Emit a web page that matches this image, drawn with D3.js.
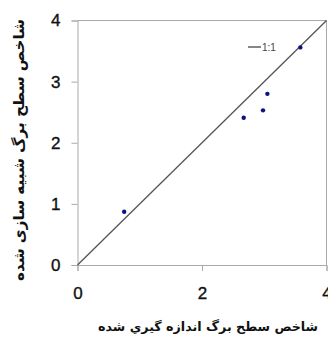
<!DOCTYPE html>
<html><head><meta charset="utf-8">
<script src="https://cdn.jsdelivr.net/npm/d3@7"></script>
<style>html,body{margin:0;padding:0;background:#fff;}svg{display:block;}</style>
</head><body>
<svg id="c" width="328" height="339"></svg>
<script>
const measured = [0.75, 2.67, 2.98, 3.05, 3.58];
const simulated = [0.87, 2.41, 2.53, 2.80, 3.56];
const xTicks = [0, 2, 4];
const yTicks = [0, 1, 2, 3, 4];
const lineLabel = "1:1";
const xTitle = "شاخص سطح برگ اندازه گيري شده";
const yTitle = "شاخص سطح برگ شبیه سازی شده";

const svg = d3.select("#c");
const x = d3.scaleLinear().domain([0, 4]).range([77.5, 326.5]);
const y = d3.scaleLinear().domain([0, 4]).range([265, 20.5]);

// frame top & right
svg.append("line").attr("x1", x(0)).attr("x2", x(4)).attr("y1", y(4)).attr("y2", y(4)).attr("stroke", "#aaa");
svg.append("line").attr("x1", x(4)).attr("x2", x(4)).attr("y1", y(4)).attr("y2", y(0)).attr("stroke", "#aaa");

const xa = svg.append("g").attr("transform", `translate(0,${y(0)})`)
  .call(d3.axisBottom(x).tickValues(xTicks).tickSize(6).tickPadding(16).tickFormat(d3.format("d")));
const ya = svg.append("g").attr("transform", `translate(${x(0)},0)`)
  .call(d3.axisLeft(y).tickValues(yTicks).tickSize(6).tickPadding(11).tickFormat(d3.format("d")));
[xa, ya].forEach(g => {
  g.select(".domain").attr("stroke", "#aaa");
  g.selectAll(".tick line").attr("stroke", "#aaa");
  g.selectAll(".tick text").attr("fill", "#111").attr("stroke", "#111").attr("stroke-width", 0.35)
    .style("font-family", "Liberation Sans, Arial, sans-serif").style("font-size", "17px");
});

// 1:1 line
svg.append("line").attr("x1", x(0)).attr("y1", y(0)).attr("x2", x(4)).attr("y2", y(4))
  .attr("stroke", "#555").attr("stroke-width", 1.3);

// points
svg.selectAll("circle.pt").data(measured).enter().append("circle")
  .attr("class", "pt")
  .attr("cx", (d) => x(d)).attr("cy", (d, i) => y(simulated[i])).attr("r", 2.2).attr("fill", "#101080");

// legend
svg.append("line").attr("x1", 248).attr("x2", 261).attr("y1", 47).attr("y2", 47).attr("stroke", "#444").attr("stroke-width", 1.3);
svg.append("text").attr("x", 262).attr("y", 51).text(lineLabel)
  .style("font-family", "Liberation Sans, Arial, sans-serif").style("font-size", "10px").attr("fill", "#444");

// titles
svg.append("text").attr("x", 208).attr("y", 331).attr("text-anchor", "middle")
  .attr("textLength", 220).attr("lengthAdjust", "spacingAndGlyphs")
  .style("font-family", "DejaVu Sans, sans-serif").style("font-weight", "bold").style("font-size", "12.5px").attr("fill", "#111")
  .text(xTitle);
svg.append("text").attr("transform", "translate(24,150) rotate(-90)").attr("text-anchor", "middle")
  .attr("textLength", 262).attr("lengthAdjust", "spacingAndGlyphs")
  .style("font-family", "DejaVu Sans, sans-serif").style("font-weight", "bold").style("font-size", "15px").attr("fill", "#111")
  .text(yTitle);
</script>
</body></html>
